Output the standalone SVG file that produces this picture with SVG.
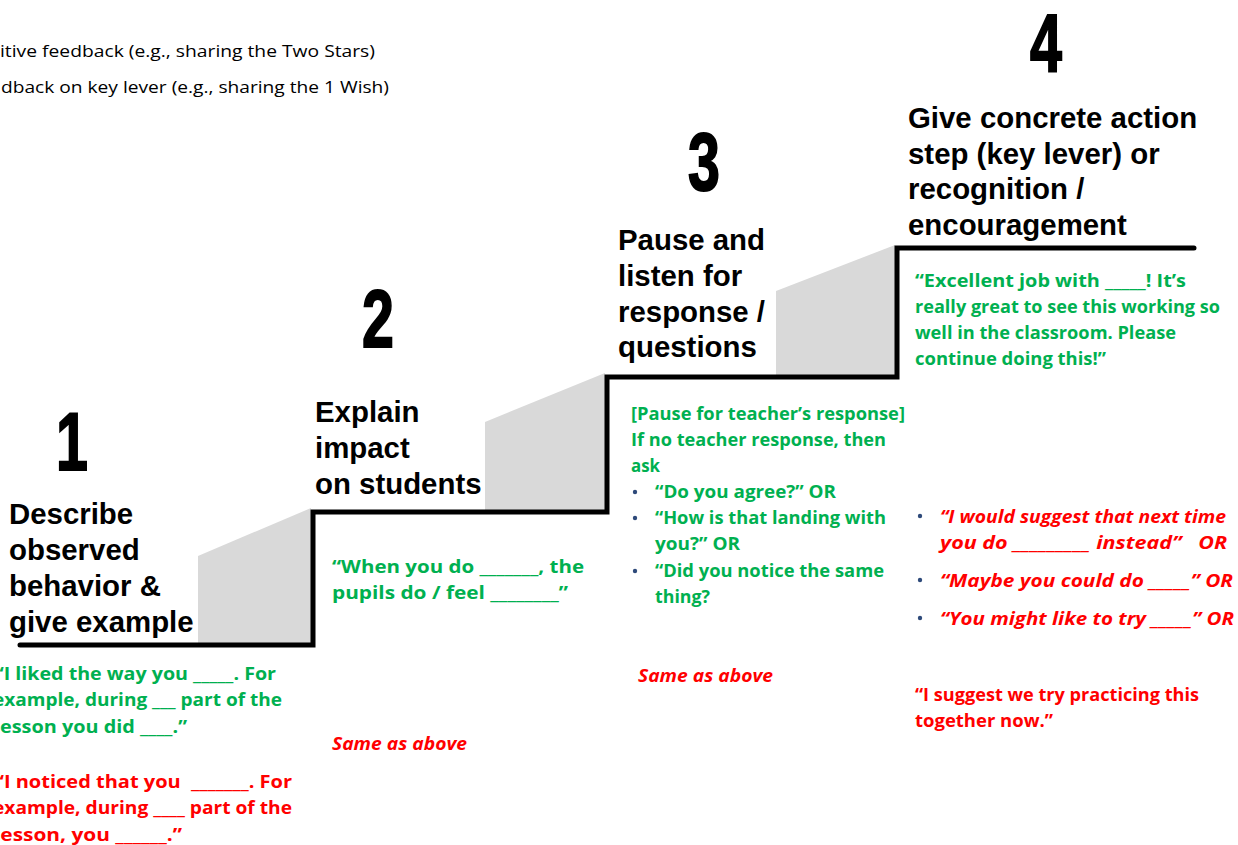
<svg xmlns="http://www.w3.org/2000/svg" width="1238" height="845" viewBox="0 0 1238 845">
  <style>
    text { white-space: pre; }
    .note { font-family: "Open Sans", "Liberation Sans", sans-serif; font-size: 17px; fill: #000; }
    .head { font-family: "Liberation Sans", Arial, sans-serif; font-weight: bold; font-size: 29.4px; fill: #000; }
    .num { font-family: "Liberation Sans", Arial, sans-serif; font-weight: bold; font-size: 82px; fill: #000; stroke: #000; stroke-width: 2; text-anchor: middle; }
    .g { font-family: "Open Sans", "Liberation Sans", sans-serif; font-weight: bold; font-size: 17px; fill: #00b050; }
    .r { font-family: "Open Sans", "Liberation Sans", sans-serif; font-weight: bold; font-size: 17px; fill: #ff0000; }
    .ri { font-family: "Open Sans", "Liberation Sans", sans-serif; font-weight: bold; font-style: italic; font-size: 17px; fill: #ff0000; }
    .bul { fill: #2e4a7a; }
    .riser { fill: #d9d9d9; }
    .stair { fill: none; stroke: #000; stroke-width: 5; stroke-linejoin: miter; stroke-linecap: round; }
  </style>

  <rect width="1238" height="845" fill="#fff"/>

  <!-- legend lines at the top left -->
  <g id="legend">
    <text class="note" x="0" y="57" textLength="375" lengthAdjust="spacingAndGlyphs">itive feedback (e.g., sharing the Two Stars)</text>
    <text class="note" x="1" y="93" textLength="388" lengthAdjust="spacingAndGlyphs">dback on key lever (e.g., sharing the 1 Wish)</text>
  </g>

  <!-- staircase: grey risers and the black step outline -->
  <g id="connectors">
    <polygon class="riser" points="198,556 311,508 311,645 198,645"/>
    <polygon class="riser" points="485,422 605,373 605,512 485,512"/>
    <polygon class="riser" points="776,291 895,245 895,377 776,377"/>
    <polyline class="stair" points="20,645 313,645 313,512 607,512 607,377 897,377 897,248 1194,248"/>
  </g>

  <!-- step 1 -->
  <g id="step1">
    <text class="num" transform="translate(72,470) scale(0.7,1)">1</text>
    <text class="head" x="9" y="524">Describe</text>
    <text class="head" x="9" y="560">observed</text>
    <text class="head" x="9" y="596">behavior &amp;</text>
    <text class="head" x="9" y="632">give example</text>
    <text class="g" x="-5" y="680" textLength="281" lengthAdjust="spacingAndGlyphs">“I liked the way you _____. For</text>
    <text class="g" x="-7" y="706" textLength="289" lengthAdjust="spacingAndGlyphs">example, during ___ part of the</text>
    <text class="g" x="-6" y="733" textLength="193" lengthAdjust="spacingAndGlyphs">lesson you did ____.”</text>
    <text class="r" x="-5" y="788" textLength="297" lengthAdjust="spacingAndGlyphs">“I noticed that you  _______. For</text>
    <text class="r" x="-7" y="814" textLength="299" lengthAdjust="spacingAndGlyphs">example, during ____ part of the</text>
    <text class="r" x="-6" y="841" textLength="188" lengthAdjust="spacingAndGlyphs">lesson, you ______.”</text>
  </g>

  <!-- step 2 -->
  <g id="step2">
    <text class="num" transform="translate(378,347) scale(0.7,1)">2</text>
    <text class="head" x="315" y="422">Explain</text>
    <text class="head" x="315" y="458">impact</text>
    <text class="head" x="315" y="494">on students</text>
    <text class="g" x="332" y="573" textLength="252" lengthAdjust="spacingAndGlyphs">“When you do _______, the</text>
    <text class="g" x="332" y="599" textLength="236" lengthAdjust="spacingAndGlyphs">pupils do / feel ________”</text>
    <text class="ri" x="332" y="750" textLength="135" lengthAdjust="spacingAndGlyphs">Same as above</text>
  </g>

  <!-- step 3 -->
  <g id="step3">
    <text class="num" transform="translate(704,190) scale(0.7,1)">3</text>
    <text class="head" x="618" y="250">Pause and</text>
    <text class="head" x="618" y="286">listen for</text>
    <text class="head" x="618" y="322">response /</text>
    <text class="head" x="618" y="357">questions</text>
    <text class="g" x="631" y="420" textLength="274" lengthAdjust="spacingAndGlyphs">[Pause for teacher’s response]</text>
    <text class="g" x="631" y="446" textLength="255" lengthAdjust="spacingAndGlyphs">If no teacher response, then</text>
    <text class="g" x="631" y="472" textLength="29" lengthAdjust="spacingAndGlyphs">ask</text>
    <circle class="bul" cx="635" cy="492" r="2.2"/>
    <circle class="bul" cx="635" cy="518" r="2.2"/>
    <circle class="bul" cx="635" cy="571" r="2.2"/>
    <text class="g" x="655" y="498" textLength="181" lengthAdjust="spacingAndGlyphs">“Do you agree?” OR</text>
    <text class="g" x="655" y="524" textLength="231" lengthAdjust="spacingAndGlyphs">“How is that landing with</text>
    <text class="g" x="655" y="550" textLength="85" lengthAdjust="spacingAndGlyphs">you?” OR</text>
    <text class="g" x="655" y="577" textLength="229" lengthAdjust="spacingAndGlyphs">“Did you notice the same</text>
    <text class="g" x="655" y="603" textLength="55" lengthAdjust="spacingAndGlyphs">thing?</text>
    <text class="ri" x="638" y="682" textLength="135" lengthAdjust="spacingAndGlyphs">Same as above</text>
  </g>

  <!-- step 4 -->
  <g id="step4">
    <text class="num" transform="translate(1046,71) scale(0.7,1)">4</text>
    <text class="head" x="908" y="128">Give concrete action</text>
    <text class="head" x="908" y="164">step (key lever) or</text>
    <text class="head" x="908" y="199">recognition /</text>
    <text class="head" x="908" y="235">encouragement</text>
    <text class="g" x="915" y="287" textLength="271" lengthAdjust="spacingAndGlyphs">“Excellent job with _____! It’s</text>
    <text class="g" x="915" y="313" textLength="305" lengthAdjust="spacingAndGlyphs">really great to see this working so</text>
    <text class="g" x="915" y="339" textLength="261" lengthAdjust="spacingAndGlyphs">well in the classroom. Please</text>
    <text class="g" x="915" y="365" textLength="191" lengthAdjust="spacingAndGlyphs">continue doing this!”</text>
    <circle class="bul" cx="920" cy="516" r="2.2"/>
    <circle class="bul" cx="920" cy="580" r="2.2"/>
    <circle class="bul" cx="920" cy="618" r="2.2"/>
    <text class="ri" x="940" y="523" textLength="286" lengthAdjust="spacingAndGlyphs">“I would suggest that next time</text>
    <text class="ri" x="940" y="549" textLength="287" lengthAdjust="spacingAndGlyphs">you do _________ instead”   OR</text>
    <text class="ri" x="940" y="587" textLength="293" lengthAdjust="spacingAndGlyphs">“Maybe you could do _____” OR</text>
    <text class="ri" x="940" y="625" textLength="294" lengthAdjust="spacingAndGlyphs">“You might like to try _____” OR</text>
    <text class="r" x="915" y="701" textLength="284" lengthAdjust="spacingAndGlyphs">“I suggest we try practicing this</text>
    <text class="r" x="915" y="727" textLength="138" lengthAdjust="spacingAndGlyphs">together now.”</text>
  </g>
</svg>
